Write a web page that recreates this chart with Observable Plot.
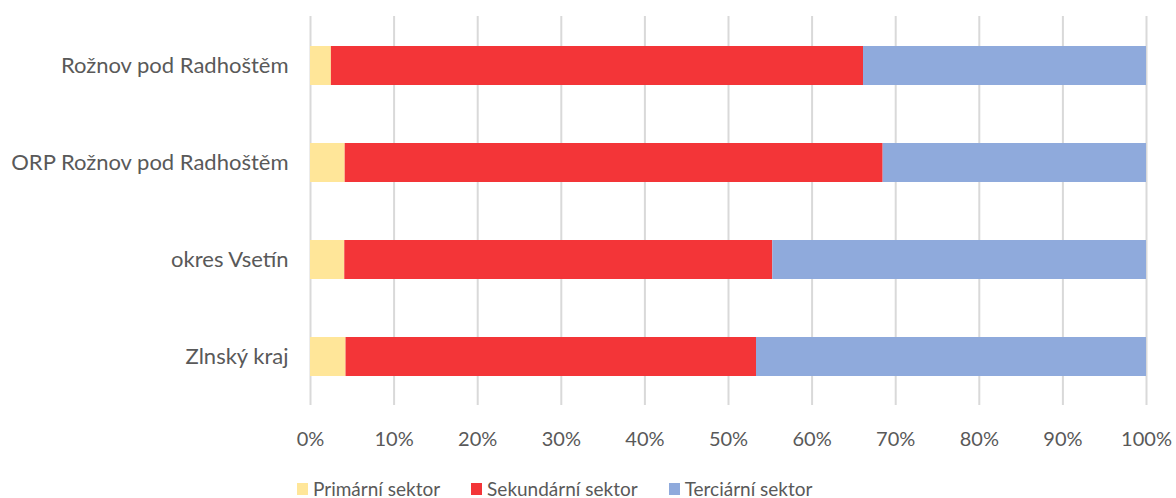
<!DOCTYPE html>
<html>
<head>
<meta charset="utf-8">
<script src="https://cdn.jsdelivr.net/npm/d3@7"></script>
<script src="https://cdn.jsdelivr.net/npm/@observablehq/plot@0.6"></script>
<style>
  html, body { margin: 0; padding: 0; background: #fff; }
  body { width: 1176px; height: 498px; overflow: hidden; font-family: Lato, "Open Sans", sans-serif; }
  #legend { display: flex; align-items: center; margin-left: 297px; height: 20px; margin-top: 17px; font-size: 19px; line-height: 20px; color: #595959; }
  .item { display: flex; align-items: center; margin-right: 31px; }
  .sw { width: 11px; height: 12px; margin-right: 5px; }
</style>
</head>
<body>
<div id="chart"></div>
<div id="legend"></div>
<script>
const categories = ["Rožnov pod Radhoštěm", "ORP Rožnov pod Radhoštěm", "okres Vsetín", "Zlnský kraj"];
const sectors = ["Primární sektor", "Sekundární sektor", "Terciární sektor"];
const colors = ["#FFE699", "#F33538", "#8FAADC"];
const primary = [2.5, 4.15, 4.1, 4.25];
const secondary = [63.65, 64.35, 51.2, 49.1];
const tertiary = [33.85, 31.5, 44.7, 46.65];
const xTicks = [0, 10, 20, 30, 40, 50, 60, 70, 80, 90, 100];

const series = [primary, secondary, tertiary];
const data = [];
categories.forEach((c, i) => {
  sectors.forEach((s, j) => data.push({category: c, sector: s, value: series[j][i]}));
});

const chart = Plot.plot({
  width: 1176,
  height: 462,
  marginTop: 16,
  marginBottom: 57,
  marginLeft: 310,
  marginRight: 30,
  style: {fontFamily: "Lato, 'Open Sans', sans-serif", fontSize: "20px", color: "#595959", background: "#fff", display: "block"},
  x: {domain: [0, 100], ticks: xTicks, tickFormat: d => d + "%", tickSize: 0, tickPadding: 26, label: null},
  y: {domain: categories, paddingInner: 0.6, paddingOuter: 0.3, tickSize: 0, tickPadding: 22, label: null},
  color: {domain: sectors, range: colors},
  marks: [
    Plot.gridX(xTicks, {stroke: "#d9d9d9", strokeOpacity: 1, strokeWidth: 2}),
    Plot.barX(data, Plot.stackX({x: "value", y: "category", fill: "sector", order: sectors})),
    Plot.axisX({ticks: xTicks, tickFormat: d => d + "%", tickSize: 0, tickPadding: 26, fontSize: 20}),
    Plot.axisY({tickSize: 0, tickPadding: 22, fontSize: 22})
  ]
});
document.getElementById("chart").appendChild(chart);

const legend = d3.select("#legend");
sectors.forEach((s, i) => {
  const it = legend.append("div").attr("class", "item");
  it.append("div").attr("class", "sw").style("background", colors[i]);
  it.append("span").text(s);
});
</script>
</body>
</html>
